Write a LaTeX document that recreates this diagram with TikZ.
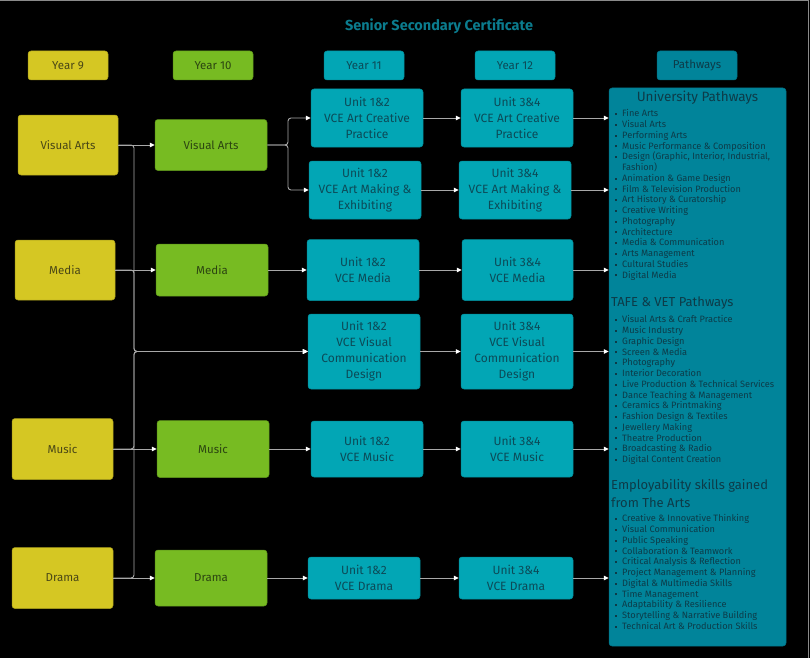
\documentclass[tikz,border=0pt]{standalone}
\usepackage{fontspec}
\setmainfont{Fira Sans}
\usepackage{xcolor}
\definecolor{ninefill}{HTML}{D5C723}
\definecolor{ninetext}{HTML}{4A4716}
\definecolor{tenfill}{HTML}{77BB22}
\definecolor{tentext}{HTML}{2C4511}
\definecolor{unitfill}{HTML}{02A6B5}
\definecolor{unittext}{HTML}{0C4A57}
\definecolor{pathfill}{HTML}{01849A}
\definecolor{pathtext}{HTML}{0D3B48}
\definecolor{titleteal}{HTML}{0B7C8E}
\definecolor{linegray}{HTML}{A8A8A8}
\definecolor{framegray}{HTML}{8A8A8A}
\usepackage{tikz}
\usetikzlibrary{arrows.meta}
\newcommand{\pbul}{\makebox[7pt][l]{\rule[1.7pt]{2pt}{2pt}}}
\tikzset{
  yrbox/.style   ={rectangle, rounded corners=3pt, line width=0.5pt, align=center, inner sep=2pt,
                   font=\fontsize{11.5}{15}\selectfont},
  ninebox/.style ={yrbox, fill=ninefill, draw=ninefill!80!black, text=ninetext},
  tenbox/.style  ={yrbox, fill=tenfill, draw=tenfill!80!black, text=tentext},
  unitbox/.style ={yrbox, fill=unitfill, draw=unitfill!85!black, text=unittext,
                   font=\fontsize{12}{16}\selectfont},
  pathhdr/.style ={yrbox, fill=pathfill, draw=pathfill!85!black, text=pathtext},
  hdrsize/.style ={minimum width=80pt, minimum height=29pt},
  phead/.style   ={inner sep=0pt, text=pathtext, font=\fontsize{13}{18}\selectfont},
  plist/.style   ={anchor=north west, inner sep=0pt, align=left, text=pathtext,
                   font=\fontsize{9.2}{10.75}\selectfont},
  link/.style    ={-{Triangle[length=5pt, width=4.5pt, color=white]}, line width=0.9pt,
                   draw=linegray, rounded corners=3pt},
}
\begin{document}
\begin{tikzpicture}[x=1pt, y=-1pt]
  \useasboundingbox (0,0) rectangle (810,658);
  \fill[black] (0,0) rectangle (810,658);
  \draw[framegray, line width=1.5pt] (0,0.75) -- (808.5,0.75) -- (808.5,658);
  % title
  \node[font=\bfseries\fontsize{14.5}{16}\selectfont, text=titleteal] (title) at (439,26) {Senior Secondary Certificate};
  % year headers
  \node[ninebox, hdrsize] (h9)   at (68,65.5)  {Year 9};
  \node[tenbox,  hdrsize] (h10)  at (213,65.5) {Year 10};
  \node[unitbox, hdrsize, font=\fontsize{11.5}{15}\selectfont] (h11)  at (364,65.5) {Year 11};
  \node[unitbox, hdrsize, font=\fontsize{11.5}{15}\selectfont] (h12)  at (515,65.5) {Year 12};
  \node[pathhdr, hdrsize] (hpath) at (697,65.5) {Pathways};
  % year 9
  \node[ninebox, minimum width=100pt, minimum height=60pt] (y9va) at (68,145)    {Visual Arts};
  \node[ninebox, minimum width=100pt, minimum height=60pt] (y9me) at (65,270)    {Media};
  \node[ninebox, minimum width=101pt, minimum height=61pt] (y9mu) at (62.5,449)  {Music};
  \node[ninebox, minimum width=101pt, minimum height=61pt] (y9dr) at (62.5,578)  {Drama};
  % year 10
  \node[tenbox, minimum width=112pt, minimum height=51pt] (y10va) at (211,145) {Visual Arts};
  \node[tenbox, minimum width=112pt, minimum height=52pt] (y10me) at (212,270) {Media};
  \node[tenbox, minimum width=112pt, minimum height=57pt] (y10mu) at (213,449) {Music};
  \node[tenbox, minimum width=112pt, minimum height=56pt] (y10dr) at (211,578) {Drama};
  % year 11
  \node[unitbox, minimum width=112pt, minimum height=58pt] (y11acp) at (367,118)   {Unit 1\&2\\VCE Art Creative\\Practice};
  \node[unitbox, minimum width=112pt, minimum height=58pt] (y11ame) at (365,190)   {Unit 1\&2\\VCE Art Making \&\\Exhibiting};
  \node[unitbox, minimum width=112pt, minimum height=61pt] (y11me)  at (363,270)   {Unit 1\&2\\VCE Media};
  \node[unitbox, minimum width=112pt, minimum height=75pt] (y11vcd) at (364,351.5) {Unit 1\&2\\VCE Visual\\Communication\\Design};
  \node[unitbox, minimum width=112pt, minimum height=56pt] (y11mu)  at (367,449)   {Unit 1\&2\\VCE Music};
  \node[unitbox, minimum width=112pt, minimum height=42pt] (y11dr)  at (364,578)   {Unit 1\&2\\VCE Drama};
  % year 12
  \node[unitbox, minimum width=112pt, minimum height=58pt] (y12acp) at (517,118)   {Unit 3\&4\\VCE Art Creative\\Practice};
  \node[unitbox, minimum width=112pt, minimum height=58pt] (y12ame) at (515,190)   {Unit 3\&4\\VCE Art Making \&\\Exhibiting};
  \node[unitbox, minimum width=111pt, minimum height=61pt] (y12me)  at (517.5,270) {Unit 3\&4\\VCE Media};
  \node[unitbox, minimum width=112pt, minimum height=75pt] (y12vcd) at (517,351.5) {Unit 3\&4\\VCE Visual\\Communication\\Design};
  \node[unitbox, minimum width=112pt, minimum height=56pt] (y12mu)  at (517,449)   {Unit 3\&4\\VCE Music};
  \node[unitbox, minimum width=114pt, minimum height=42pt] (y12dr)  at (516,578)   {Unit 3\&4\\VCE Drama};
  % pathways panel
  \node[rectangle, rounded corners=3pt, fill=pathfill, draw=pathfill!85!black, line width=0.5pt,
        minimum width=177pt, minimum height=558pt] (panel) at (697.5,367) {};
  \node[phead, font=\fontsize{13.5}{18}\selectfont] (uni) at (697.5,98) {University Pathways};
  \node[plist] (unilist) at (615,109.5) {\pbul Fine Arts\\ \pbul Visual Arts\\ \pbul Performing Arts\\
    \pbul Music Performance \& Composition\\ \pbul Design (Graphic, Interior, Industrial,\\
    \hspace*{7pt}Fashion)\\ \pbul Animation \& Game Design\\ \pbul Film \& Television Production\\
    \pbul Art History \& Curatorship\\ \pbul Creative Writing\\ \pbul Photography\\ \pbul Architecture\\
    \pbul Media \& Communication\\ \pbul Arts Management\\ \pbul Cultural Studies\\ \pbul Digital Media};
  \node[phead, anchor=west] (tafe) at (611,303) {TAFE \& VET Pathways};
  \node[plist] (tafelist) at (615,315.5) {\pbul Visual Arts \& Craft Practice\\ \pbul Music Industry\\
    \pbul Graphic Design\\ \pbul Screen \& Media\\ \pbul Photography\\ \pbul Interior Decoration\\
    \pbul Live Production \& Technical Services\\ \pbul Dance Teaching \& Management\\
    \pbul Ceramics \& Printmaking\\ \pbul Fashion Design \& Textiles\\ \pbul Jewellery Making\\
    \pbul Theatre Production\\ \pbul Broadcasting \& Radio\\ \pbul Digital Content Creation};
  \node[phead, anchor=north west, align=left] (emp) at (611,479) {Employability skills gained\\from The Arts};
  \node[plist] (emplist) at (615,514.5) {\pbul Creative \& Innovative Thinking\\ \pbul Visual Communication\\
    \pbul Public Speaking\\ \pbul Collaboration \& Teamwork\\ \pbul Critical Analysis \& Reflection\\
    \pbul Project Management \& Planning\\ \pbul Digital \& Multimedia Skills\\ \pbul Time Management\\
    \pbul Adaptability \& Resilience\\ \pbul Storytelling \& Narrative Building\\
    \pbul Technical Art \& Production Skills};
  % routing points
  \coordinate (bus)  at (134,351.5);
  \coordinate (fork) at (288,145);
  % year 9 -> year 10
  \draw[link] (y9va.east) -- (y10va.west);
  \draw[link] (y9me.east) -- (y10me.west);
  \draw[link] (y9mu.east) -- (y10mu.west);
  \draw[link] (y9dr.east) -- (y10dr.west);
  % year 9 -> visual communication
  \draw[link] (y9va.east) -- (y9va.east -| bus) |- (y11vcd.west);
  \draw[link] (y9me.east) -- (y9me.east -| bus) |- (y11vcd.west);
  \draw[link] (y9mu.east) -- (y9mu.east -| bus) |- (y11vcd.west);
  \draw[link] (y9dr.east) -- (y9dr.east -| bus) |- (y11vcd.west);
  % year 10 -> year 11
  \draw[link] (y10va.east) -- (y10va.east -| fork) |- (y11acp.west);
  \draw[link] (y10va.east) -- (y10va.east -| fork) |- (y11ame.west);
  \draw[link] (y10me.east) -- (y11me.west);
  \draw[link] (y10mu.east) -- (y11mu.west);
  \draw[link] (y10dr.east) -- (y11dr.west);
  % year 11 -> year 12
  \draw[link] (y11acp.east) -- (y12acp.west);
  \draw[link] (y11ame.east) -- (y12ame.west);
  \draw[link] (y11me.east)  -- (y12me.west);
  \draw[link] (y11vcd.east) -- (y12vcd.west);
  \draw[link] (y11mu.east)  -- (y12mu.west);
  \draw[link] (y11dr.east)  -- (y12dr.west);
  % year 12 -> pathways
  \draw[link] (y12acp.east) -- (y12acp.east -| panel.west);
  \draw[link] (y12ame.east) -- (y12ame.east -| panel.west);
  \draw[link] (y12me.east)  -- (y12me.east -| panel.west);
  \draw[link] (y12vcd.east) -- (y12vcd.east -| panel.west);
  \draw[link] (y12mu.east)  -- (y12mu.east -| panel.west);
  \draw[link] (y12dr.east)  -- (y12dr.east -| panel.west);
\end{tikzpicture}
\end{document}
